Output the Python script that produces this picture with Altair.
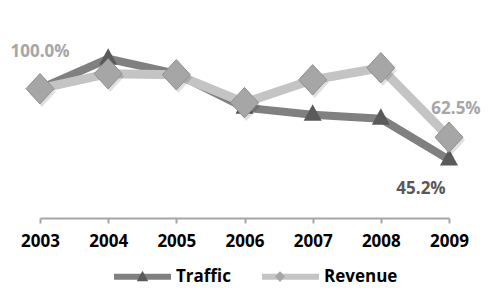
import altair as alt
import pandas as pd

years = [2003, 2004, 2005, 2006, 2007, 2008, 2009]
traffic = [100.0, 123.2, 111.6, 85.3, 79.9, 76.8, 45.2]
revenue = [100.0, 111.6, 110.8, 89.2, 106.9, 116.2, 62.5]
series_names = ["Traffic", "Revenue"]

line_colors = ["#808080", "#c4c4c4"]
marker_colors = ["#5a5a5a", "#a6a6a6"]
tri_path = "M0,-0.235L0.2,0.133L-0.2,0.133Z"
dia_path = "M-0.175,0L0,-0.19L0.175,0L0,0.19Z"

FONT = "Open Sans"

df = pd.DataFrame({
    "year": years * 2,
    "value": traffic + revenue,
    "series": [series_names[0]] * len(years) + [series_names[1]] * len(years),
})
df["marker"] = df["series"]

LX, LY = 71, 208
GAP = 19
TRAFFIC_LABEL_W = 53.5


def legend_common(**kw):
    opts = dict(
        orient="none", legendX=LX, legendY=LY, direction="horizontal", title=None,
        symbolSize=3249, symbolStrokeWidth=6, labelFont=FONT, labelFontSize=17,
        labelFontWeight="bold", labelColor="#000000", labelOffset=2,
        columnPadding=GAP, padding=0)
    opts.update(kw)
    return alt.Legend(**opts)


x = alt.X("year:Q", scale=alt.Scale(domain=[2003, 2009], nice=False, zero=False),
          axis=alt.Axis(values=years, format="d", title=None, grid=False,
                        labelFont=FONT, labelFontSize=17, labelFontWeight="bold",
                        labelColor="#000000", labelPadding=10, tickColor="#a6a6a6",
                        domainColor="#a6a6a6", tickSize=5, tickWidth=2,
                        domainWidth=2, labelFlush=False))
y = alt.Y("value:Q", scale=alt.Scale(domain=[0, 140], nice=False), axis=None)

base = alt.Chart(df).encode(x=x, y=y)

color_enc = alt.Color("series:N", sort=series_names,
                      scale=alt.Scale(range=line_colors),
                      legend=legend_common(symbolType="M-1,0H1"))
marker_legend = legend_common(symbolStrokeColor="transparent", labelExpr="''",
                              columnPadding=GAP + TRAFFIC_LABEL_W)
fill_enc = alt.Fill("marker:N",
                    scale=alt.Scale(domain=series_names, range=marker_colors),
                    legend=marker_legend)
shape_enc = alt.Shape("marker:N",
                      scale=alt.Scale(domain=series_names, range=[tri_path, dia_path]),
                      legend=marker_legend)

t_line = base.transform_filter(alt.datum.series == "Traffic").mark_line(
    strokeWidth=8, strokeJoin="miter").encode(color=color_enc)
t_pts = base.transform_filter(alt.datum.series == "Traffic").mark_point(
    filled=True, size=8100, opacity=1).encode(fill=fill_enc, shape=shape_enc)
r_line = base.transform_filter(alt.datum.series == "Revenue").mark_line(
    strokeWidth=9, strokeJoin="miter").encode(color=color_enc)
r_shadow = base.transform_filter(alt.datum.series == "Revenue").mark_point(
    filled=True, size=25600, shape=dia_path, color="#000000", opacity=0.12,
    xOffset=2, yOffset=3)
r_pts = base.transform_filter(alt.datum.series == "Revenue").mark_point(
    filled=True, size=25600, opacity=1, stroke="#909090", strokeWidth=1
).encode(fill=fill_enc, shape=shape_enc)


def label_layer(series, year, color, dx, dy):
    return base.transform_filter(
        (alt.datum.series == series) & (alt.datum.year == year)
    ).transform_calculate(
        label="format(datum.value, '.1f') + '%'"
    ).mark_text(font=FONT, fontSize=17, fontWeight="bold", color=color,
                dx=dx, dy=dy).encode(text="label:N")


l1 = label_layer("Revenue", 2003, "#a6a6a6", 0, -37)
l2 = label_layer("Revenue", 2009, "#a6a6a6", 7, -28)
l3 = label_layer("Traffic", 2009, "#595959", -28, 29)

chart = alt.layer(t_line, t_pts, r_line, r_shadow, r_pts, l1, l2, l3).properties(
    width=409, height=181,
    autosize=alt.AutoSizeParams(type="none"),
    padding={"left": 32, "top": 29, "right": 33, "bottom": 70},
).configure_view(stroke=None)

chart.save("out.html", embed_options={"renderer": "svg", "actions": False})
